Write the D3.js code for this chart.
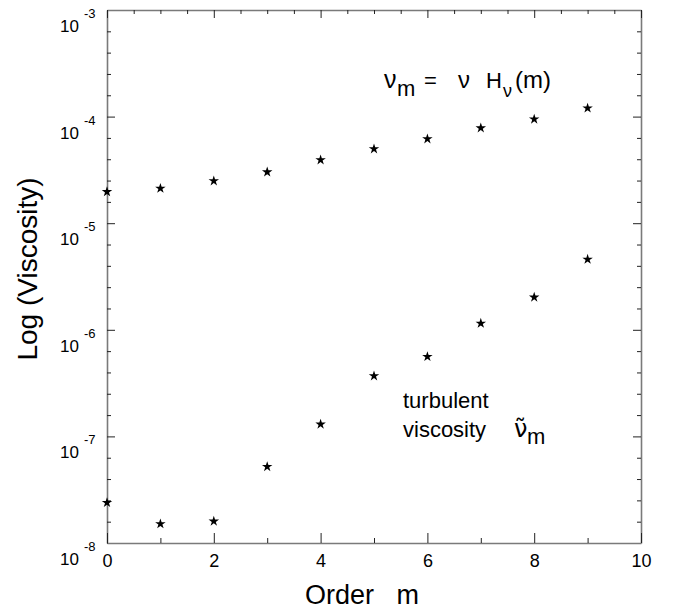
<!DOCTYPE html>
<html>
<head>
<meta charset="utf-8">
<script src="https://cdn.jsdelivr.net/npm/d3@7"></script>
<style>
  body { margin: 0; background: #fff; }
  svg { font-family: "Liberation Sans", Arial, sans-serif; }
</style>
</head>
<body>
<div id="chart"></div>
<script>
// data
var orders = [0, 1, 2, 3, 4, 5, 6, 7, 8, 9];
var molecular = [1.97e-5, 2.12e-5, 2.49e-5, 3.02e-5, 3.92e-5, 4.97e-5, 6.17e-5, 7.82e-5, 9.45e-5, 1.20e-4];
var turbulent = [2.39e-8, 1.51e-8, 1.60e-8, 5.2e-8, 1.30e-7, 3.69e-7, 5.6e-7, 1.15e-6, 2.02e-6, 4.58e-6];
var decades = [-8, -7, -6, -5, -4, -3];
var xLabels = [0, 2, 4, 6, 8, 10];

var W = 681, H = 609;
var margin = {top: 10, right: 40, bottom: 66, left: 107};
var width = W - margin.left - margin.right;
var height = H - margin.top - margin.bottom;

var svg = d3.select('#chart').append('svg')
    .attr('width', W)
    .attr('height', H);

var g = svg.append('g')
    .attr('transform', 'translate(' + margin.left + ',' + margin.top + ')');

var x = d3.scaleLinear().domain([0, 10]).range([0, width]);
var y = d3.scaleLog().domain([1e-8, 1e-3]).range([height, 0]);

// ticks every fifth of a decade, longer at the decades
var logTicks = d3.range(0, 26).map(function (k) { return Math.pow(10, -8 + k * 0.2); });
function isDecade(v) {
    var l = Math.log10(v);
    return Math.abs(l - Math.round(l)) < 1e-6;
}

function styleAxis(sel) {
    sel.select('.domain').attr('stroke', '#7a7a7a').attr('stroke-width', 1.6);
    sel.selectAll('.tick line').attr('stroke', '#222').attr('stroke-width', 1);
}

// left
var leftAxis = g.append('g')
    .call(d3.axisLeft(y).tickValues(logTicks).tickSizeInner(-4).tickSizeOuter(0).tickFormat(''));
leftAxis.selectAll('.tick line').attr('x2', function (d) { return isDecade(d) ? 8 : 4; });
styleAxis(leftAxis);

// right
var rightAxis = g.append('g')
    .attr('transform', 'translate(' + width + ',0)')
    .call(d3.axisRight(y).tickValues(logTicks).tickSizeInner(-4).tickSizeOuter(0).tickFormat(''));
rightAxis.selectAll('.tick line').attr('x2', function (d) { return isDecade(d) ? -8 : -4; });
styleAxis(rightAxis);

// top, every half unit
var topAxis = g.append('g')
    .call(d3.axisTop(x).tickValues(d3.range(0, 10.01, 0.5)).tickSizeInner(-4).tickSizeOuter(0).tickFormat(''));
topAxis.selectAll('.tick line').attr('y2', function (d) { return d % 2 === 0 ? 8 : 4; });
styleAxis(topAxis);

// bottom, every unit
var bottomAxis = g.append('g')
    .attr('transform', 'translate(0,' + height + ')')
    .call(d3.axisBottom(x).tickValues(d3.range(0, 11)).tickSizeInner(-5).tickSizeOuter(0)
        .tickPadding(11)
        .tickFormat(function (d) { return xLabels.indexOf(d) >= 0 ? d : ''; }));
bottomAxis.selectAll('.tick line').attr('y2', function (d) { return d % 2 === 0 ? -10 : -5; });
bottomAxis.selectAll('.tick text')
    .attr('font-size', 18)
    .attr('font-family', '"Liberation Sans", Arial, sans-serif')
    .attr('fill', '#000');
styleAxis(bottomAxis);

// decade labels 10^n
var ylab = g.selectAll('.ylab').data(decades).enter().append('text')
    .attr('class', 'ylab')
    .attr('x', -47)
    .attr('y', function (d) { return y(Math.pow(10, d)) + 22; })
    .attr('font-size', 17)
    .attr('fill', '#000');
ylab.append('tspan').text('10');
ylab.append('tspan')
    .attr('dx', 5)
    .attr('dy', -14)
    .attr('font-size', 13)
    .text(function (d) { return d; });

// markers
var star = d3.symbol().type(d3.symbolStar).size(34);
function drawSeries(vals) {
    g.append('g').selectAll('path').data(vals).enter().append('path')
        .attr('d', star)
        .attr('transform', function (d, i) { return 'translate(' + x(orders[i]) + ',' + y(d) + ')'; })
        .attr('fill', '#000');
}
drawSeries(molecular);
drawSeries(turbulent);

// axis titles
svg.append('text')
    .attr('transform', 'translate(37,269) rotate(-90)')
    .attr('text-anchor', 'middle')
    .attr('font-size', 28)
    .text('Log (Viscosity)');

svg.append('text')
    .attr('x', 305)
    .attr('y', 604)
    .attr('font-size', 27)
    .style('white-space', 'pre')
    .text('Order   m');

// annotations
var a1 = svg.append('text')
    .attr('y', 88)
    .attr('font-size', 22);
a1.append('tspan').attr('x', 384).attr('y', 88).attr('font-size', 25).text('\u03bd');
a1.append('tspan').attr('x', 397).attr('y', 96).attr('font-size', 22).text('m');
a1.append('tspan').attr('x', 424).attr('y', 88).attr('font-size', 22).text('=');
a1.append('tspan').attr('x', 458).attr('y', 88).attr('font-size', 24).text('\u03bd');
a1.append('tspan').attr('x', 486).attr('y', 88).attr('font-size', 22).text('H');
a1.append('tspan').attr('x', 503).attr('y', 97).attr('font-size', 18).text('\u03bd');
a1.append('tspan').attr('x', 515).attr('y', 88).attr('font-size', 24).text('(m)');

var a2 = svg.append('text')
    .attr('font-size', 22);
a2.append('tspan').attr('x', 403).attr('y', 408).text('turbulent');
a2.append('tspan').attr('x', 403).attr('y', 437).text('viscosity');
a2.append('tspan').attr('x', 514).attr('y', 437).attr('font-size', 24)
    .attr('font-family', '"DejaVu Sans", sans-serif')
    .text('\u03bd\u0303');
a2.append('tspan').attr('x', 527).attr('y', 444).attr('font-size', 22).text('m');
</script>
</body>
</html>
